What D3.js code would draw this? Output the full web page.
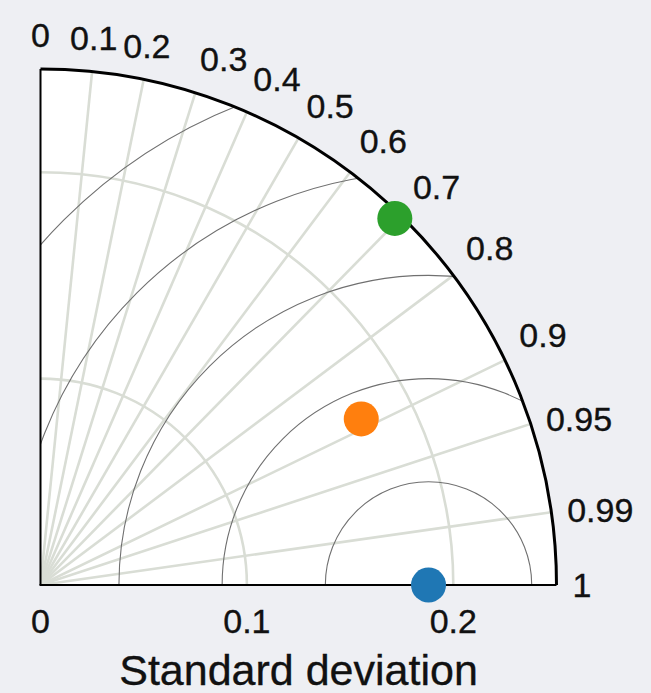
<!DOCTYPE html>
<html>
<head>
<meta charset="utf-8">
<script src="https://cdn.jsdelivr.net/npm/d3@7"></script>
<style>
  html, body { margin: 0; padding: 0; background: #eeeff3; }
  svg { display: block; }
  text { font-family: "Liberation Sans", Arial, Helvetica, sans-serif; fill: #111; stroke: #111; stroke-width: 0.35px; }
</style>
</head>
<body>
<svg id="chart" width="651" height="693"></svg>
<script>
// Taylor diagram: correlation on the angular axis, standard deviation on the radius.
const corrTicks = [0, 0.1, 0.2, 0.3, 0.4, 0.5, 0.6, 0.7, 0.8, 0.9, 0.95, 0.99, 1];
const corrTickLabels = ["0", "0.1", "0.2", "0.3", "0.4", "0.5", "0.6", "0.7", "0.8", "0.9", "0.95", "0.99", "1"];
const stdTicks = [0, 0.1, 0.2];
const stdTickLabels = ["0", "0.1", "0.2"];
const stdGridLevels = [0.1, 0.2];
const stdMax = 0.25;
const rmsLevels = [0.05, 0.1, 0.15, 0.2, 0.25];
const refStd = 0.188;

const seriesNames = ["Reference", "Model A", "Model B"];
const seriesStd = [0.188, 0.175, 0.247];
const seriesCorr = [1, 0.888, 0.695];
const seriesColors = ["#1f77b4", "#ff7f0e", "#2ca02c"];

const axisTitle = "Standard deviation";

// Layout
const ox = 40.5, oy = 585, R = 516;
const tickFont = 34, titleFont = 43;

const svg = d3.select("#chart");
const r = d3.scaleLinear().domain([0, stdMax]).range([0, R]);
const angleOf = c => Math.acos(c);
const px = (s, c) => ox + r(s) * Math.cos(angleOf(c));
const py = (s, c) => oy - r(s) * Math.sin(angleOf(c));

// Quarter-disk outline used for the fill and for clipping
const quarter = d3.path();
quarter.moveTo(ox, oy);
quarter.lineTo(ox, oy - R);
quarter.arc(ox, oy, R, -Math.PI / 2, 0, false);
quarter.closePath();

const defs = svg.append("defs");
defs.append("clipPath").attr("id", "quarterClip")
  .append("path").attr("d", quarter.toString());

svg.append("path").attr("d", quarter.toString()).attr("fill", "#ffffff");

const grid = svg.append("g").attr("clip-path", "url(#quarterClip)");

// Standard deviation arcs
grid.selectAll("path.stdgrid").data(stdGridLevels).join("path")
  .attr("class", "stdgrid")
  .attr("d", s => { const p = d3.path(); p.arc(ox, oy, r(s), -Math.PI / 2, 0, false); return p.toString(); })
  .attr("fill", "none").attr("stroke", "#d9ddd5").attr("stroke-width", 2.6);

// Correlation rays
grid.selectAll("line.corrgrid").data(corrTicks.filter(c => c > 0 && c < 1)).join("line")
  .attr("class", "corrgrid")
  .attr("x1", ox).attr("y1", oy)
  .attr("x2", c => px(stdMax, c)).attr("y2", c => py(stdMax, c))
  .attr("stroke", "#d9ddd5").attr("stroke-width", 2.6);

// Centred RMS difference circles around the reference point
grid.selectAll("circle.rms").data(rmsLevels).join("circle")
  .attr("class", "rms")
  .attr("cx", ox + r(refStd)).attr("cy", oy)
  .attr("r", d => r(d))
  .attr("fill", "none").attr("stroke", "#707070").attr("stroke-width", 1.1);

// Axes
svg.append("line").attr("x1", ox).attr("y1", oy).attr("x2", ox).attr("y2", oy - R)
  .attr("stroke", "#000").attr("stroke-width", 2);
svg.append("line").attr("x1", ox - 1).attr("y1", oy).attr("x2", ox + R).attr("y2", oy)
  .attr("stroke", "#000").attr("stroke-width", 2);
const outer = d3.path();
outer.arc(ox, oy, R, -Math.PI / 2, 0, false);
svg.append("path").attr("d", outer.toString())
  .attr("fill", "none").attr("stroke", "#000").attr("stroke-width", 3);

// Data points
svg.selectAll("circle.pt").data(seriesNames).join("circle")
  .attr("class", "pt")
  .attr("cx", (d, i) => px(seriesStd[i], seriesCorr[i]))
  .attr("cy", (d, i) => py(seriesStd[i], seriesCorr[i]))
  .attr("r", 17.5)
  .attr("fill", (d, i) => seriesColors[i]);

// Correlation labels around the outer arc
const labR = R + 16;
svg.selectAll("text.corrlab").data(corrTicks).join("text")
  .attr("class", "corrlab")
  .attr("font-size", tickFont)
  .attr("text-anchor", c => Math.cos(angleOf(c)) < 0.25 ? "middle" : "start")
  .attr("x", c => ox + labR * Math.cos(angleOf(c)))
  .attr("y", c => {
    const a = angleOf(c);
    const yy = oy - labR * Math.sin(a);
    const centre = a < 22 * Math.PI / 180 ? yy : yy - 18;
    return centre + 0.35 * tickFont;
  })
  .text((c, i) => corrTickLabels[i]);

// Standard deviation tick labels
svg.selectAll("text.stdlab").data(stdTicks).join("text")
  .attr("class", "stdlab")
  .attr("font-size", tickFont)
  .attr("text-anchor", "middle")
  .attr("x", s => ox + r(s))
  .attr("y", 621 + 0.35 * tickFont)
  .text((s, i) => stdTickLabels[i]);

svg.append("text")
  .attr("font-size", titleFont)
  .attr("text-anchor", "middle")
  .attr("x", ox + R / 2)
  .attr("y", 685)
  .text(axisTitle);
</script>
</body>
</html>
